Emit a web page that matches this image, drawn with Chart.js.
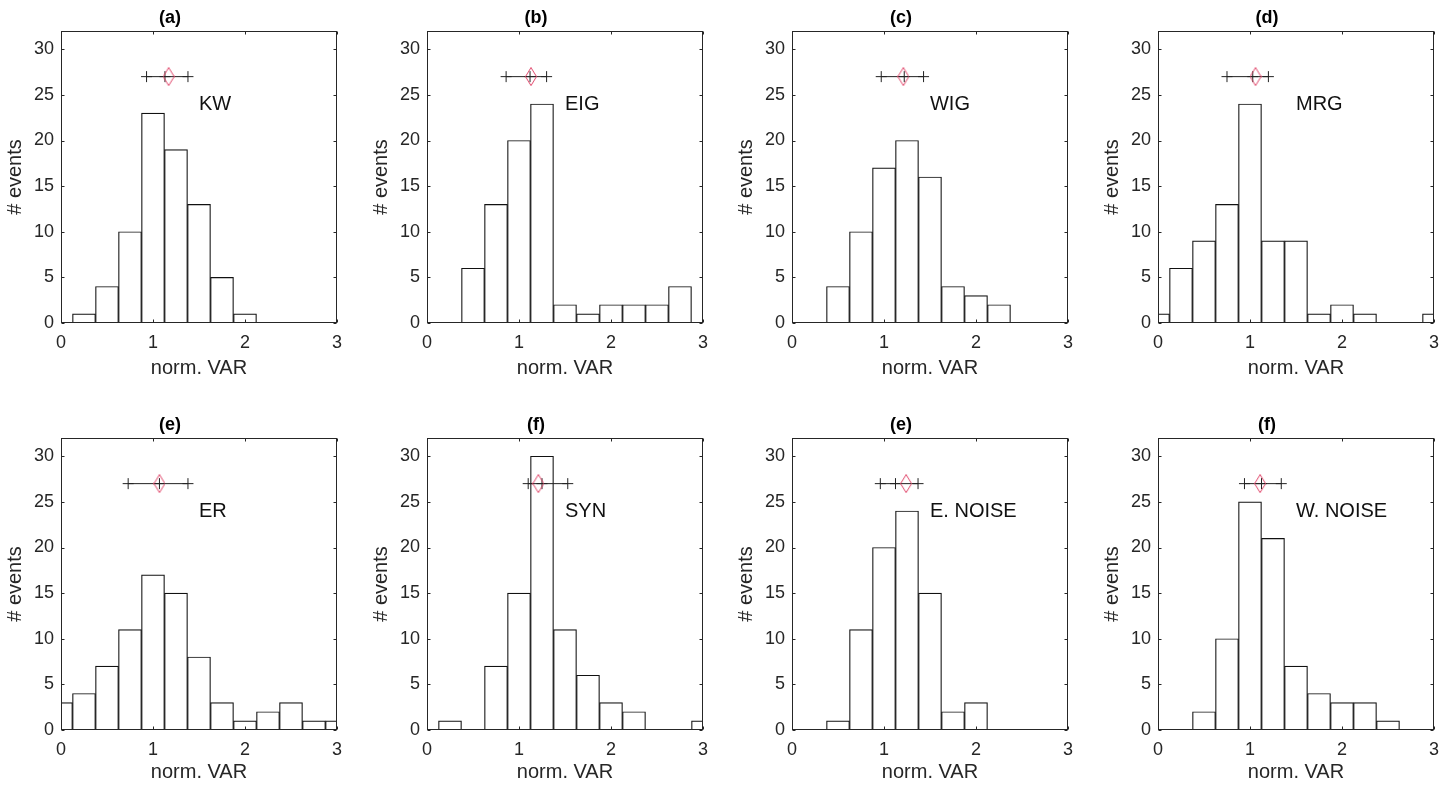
<!DOCTYPE html>
<html>
<head>
<meta charset="utf-8">
<script src="https://cdn.jsdelivr.net/npm/chart.js@4.4.1/dist/chart.umd.min.js"></script>
<style>
  body { margin: 0; background: #fff; overflow: hidden; width: 1453px; height: 786px; position: relative; }
  .panel { position: absolute; }
</style>
</head>
<body>
<script>
// histogram bins (centres, width 0.25)
const binCenters = [0, 0.25, 0.5, 0.75, 1, 1.25, 1.5, 1.75, 2, 2.25, 2.5, 2.75, 3];

const kwCounts     = [0, 1, 4, 10, 23, 19, 13, 5, 1, 0, 0, 0, 0];
const eigCounts    = [0, 0, 6, 13, 20, 24, 2, 1, 2, 2, 2, 4, 0];
const wigCounts    = [0, 0, 4, 10, 17, 20, 16, 4, 3, 2, 0, 0, 0];
const mrgCounts    = [1, 6, 9, 13, 24, 9, 9, 1, 2, 1, 0, 0, 1];
const erCounts     = [3, 4, 7, 11, 17, 15, 8, 3, 1, 2, 3, 1, 1];
const synCounts    = [0, 1, 0, 7, 15, 30, 11, 6, 3, 2, 0, 0, 1];
const eNoiseCounts = [0, 0, 1, 11, 20, 24, 15, 2, 3, 0, 0, 0, 0];
const wNoiseCounts = [0, 0, 2, 10, 25, 21, 7, 4, 3, 3, 1, 0, 0];

const panelTitles = ['(a)', '(b)', '(c)', '(d)', '(e)', '(f)', '(e)', '(f)'];
const panelLabels = ['KW', 'EIG', 'WIG', 'MRG', 'ER', 'SYN', 'E. NOISE', 'W. NOISE'];
const panelCounts = [kwCounts, eigCounts, wigCounts, mrgCounts, erCounts, synCounts, eNoiseCounts, wNoiseCounts];

// spread markers drawn at y = 27
const lowerValues  = [0.93, 0.86, 0.97, 0.75, 0.73, 1.10, 0.96, 0.94];
const medianValues = [1.13, 1.12, 1.22, 1.03, 1.07, 1.25, 1.125, 1.125];
const upperValues  = [1.38, 1.30, 1.43, 1.20, 1.38, 1.53, 1.37, 1.34];
const meanValues   = [1.17, 1.13, 1.21, 1.06, 1.07, 1.21, 1.24, 1.11];
const markerY = 27;

const xTicks = [0, 1, 2, 3];
const yTicks = [0, 5, 10, 15, 20, 25, 30];

const fontFamily = "'Liberation Sans', Arial, Helvetica, sans-serif";
Chart.defaults.font.family = fontFamily;
Chart.defaults.color = '#262626';

// layout of the 2x4 grid
const colLeft = [61, 427, 792, 1158];
const rowTop = [31, 438];
const plotW = 278, plotH = 292;
const axisW = 60, titleH = 31, padRight = 12;
const xAxisH = [60, 57];

function makeDiamond() {
  const c = document.createElement('canvas');
  c.width = 12; c.height = 19;
  const g = c.getContext('2d');
  g.strokeStyle = '#e0466a';
  g.lineWidth = 1;
  g.beginPath();
  g.moveTo(6, 0.5); g.lineTo(11.5, 9.5); g.lineTo(6, 18.5); g.lineTo(0.5, 9.5);
  g.closePath();
  g.stroke();
  return c;
}
const diamond = makeDiamond();

const boxPlugin = {
  id: 'matlabBox',
  afterDraw(chart, args, opts) {
    const { ctx, chartArea: a, scales: { x, y } } = chart;
    const L = Math.round(a.left) + 0.5, R = Math.round(a.right) - 0.5;
    const T = Math.round(a.top) + 0.5, B = Math.round(a.bottom) - 0.5;
    ctx.save();
    ctx.strokeStyle = '#262626';
    ctx.lineWidth = 1;
    ctx.strokeRect(L, T, R - L, B - T);
    ctx.beginPath();
    xTicks.forEach(v => {
      const px = Math.round(x.getPixelForValue(v)) + 0.5;
      ctx.moveTo(px, B); ctx.lineTo(px, B - 3);
      ctx.moveTo(px, T); ctx.lineTo(px, T + 3);
    });
    yTicks.forEach(v => {
      const py = Math.round(y.getPixelForValue(v)) + 0.5;
      ctx.moveTo(L, py); ctx.lineTo(L + 3, py);
      ctx.moveTo(R, py); ctx.lineTo(R - 3, py);
    });
    ctx.stroke();
    ctx.fillStyle = '#111';
    ctx.font = '20px ' + fontFamily;
    ctx.textAlign = 'left';
    ctx.textBaseline = 'middle';
    ctx.fillText(opts.label, x.getPixelForValue(1.5), y.getPixelForValue(24));
    ctx.restore();
  }
};

panelCounts.forEach((counts, i) => {
  const row = Math.floor(i / 4), col = i % 4;
  const div = document.createElement('div');
  div.className = 'panel';
  div.style.left = (colLeft[col] - axisW) + 'px';
  div.style.top = (rowTop[row] - titleH) + 'px';
  div.style.width = (axisW + plotW + padRight) + 'px';
  div.style.height = (titleH + plotH + xAxisH[row]) + 'px';
  const canvas = document.createElement('canvas');
  div.appendChild(canvas);
  document.body.appendChild(div);

  new Chart(canvas, {
    type: 'bar',
    data: {
      datasets: [{
        type: 'line',
        data: [{ x: meanValues[i], y: markerY }],
        showLine: false,
        pointStyle: diamond,
        pointRadius: 9
      }, {
        type: 'line',
        data: [
          { x: lowerValues[i], y: markerY },
          { x: medianValues[i], y: markerY },
          { x: upperValues[i], y: markerY }
        ],
        borderColor: '#222',
        borderWidth: 1,
        pointStyle: 'cross',
        pointRadius: 5.5,
        pointBorderColor: '#222',
        pointBorderWidth: 1,
        fill: false
      }, {
        data: binCenters.map((c, k) => ({ x: c, y: counts[k] })),
        backgroundColor: '#fff',
        borderColor: '#111',
        borderWidth: 1.2,
        borderSkipped: false,
        barPercentage: 1,
        categoryPercentage: 1,
        grouped: false
      }]
    },
    options: {
      responsive: true,
      maintainAspectRatio: false,
      animation: false,
      events: [],
      layout: { padding: { left: 0, right: padRight, top: 0, bottom: 0 } },
      scales: {
        x: {
          type: 'linear',
          min: 0,
          max: 3,
          offset: false,
          grid: { display: false, drawTicks: false },
          border: { display: false },
          ticks: { stepSize: 1, font: { size: 18 }, padding: 9, maxRotation: 0, includeBounds: false },
          title: { display: true, text: 'norm. VAR', font: { size: 20 }, color: '#262626', padding: { top: 0, bottom: 3 } },
          afterFit(s) { s.height = xAxisH[row]; }
        },
        y: {
          min: 0,
          max: 32,
          grid: { display: false, drawTicks: false },
          border: { display: false },
          ticks: { stepSize: 5, font: { size: 18 }, padding: 7, includeBounds: false },
          title: { display: true, text: '# events', font: { size: 20 }, color: '#262626', padding: { top: 2.3, bottom: 0 } },
          afterFit(s) { s.width = axisW; }
        }
      },
      plugins: {
        legend: { display: false },
        tooltip: { enabled: false },
        title: {
          display: true,
          text: panelTitles[i],
          color: '#000',
          font: { size: 18, weight: 'bold' },
          padding: { top: 7.5, bottom: 1.9 }
        },
        matlabBox: { label: panelLabels[i] }
      }
    },
    plugins: [boxPlugin]
  });
});
</script>
</body>
</html>
